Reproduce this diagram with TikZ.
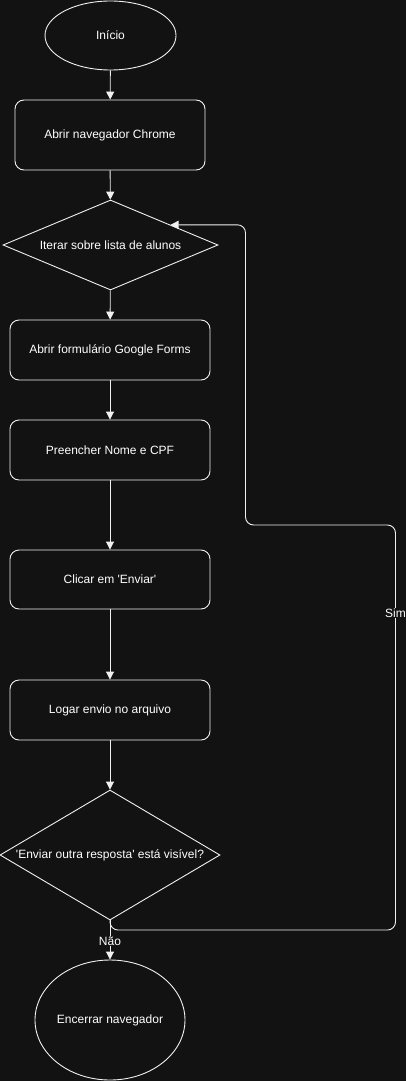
\documentclass[tikz,border=0pt]{standalone}
\usepackage{fontspec}
\setmainfont{Liberation Sans}
\usetikzlibrary{shapes.geometric,arrows.meta,calc}
\definecolor{bg}{HTML}{121212}
\definecolor{fg}{HTML}{F0F0F0}
\begin{document}
\begin{tikzpicture}[x=1pt,y=-1pt,
  every node/.style={text=white,font=\fontsize{12}{14}\selectfont,inner sep=0pt},
  term/.style={ellipse,draw=fg,line width=0.9pt},
  proc/.style={rectangle,rounded corners=9pt,draw=fg,line width=0.9pt,minimum width=200pt,minimum height=60pt},
  cond/.style={diamond,draw=fg,line width=0.9pt},
  arr/.style={draw=fg,line width=0.9pt,-{Triangle[length=8pt,width=8pt]}},
  lbl/.style={fill=bg,inner sep=1pt}]
\fill[bg] (0,0) rectangle (406,1081);
\useasboundingbox (0,0) rectangle (406,1081);
\node[term, minimum width=131pt, minimum height=69pt] (inicio) at (110.5,35.5){Início};
\node[proc, minimum width=190pt, minimum height=70pt] (chrome) at (110,135){Abrir navegador Chrome};
\node[cond, aspect=2.39, minimum width=215pt, minimum height=90pt] (iterar) at (110.5,245){Iterar sobre lista de alunos};
\node[proc] (form) at (110,350){Abrir formulário Google Forms};
\node[proc] (preencher) at (110,450){Preencher Nome e CPF};
\node[proc, minimum height=59pt] (clicar) at (110,579.5){Clicar em \textquotesingle Enviar\textquotesingle};
\node[proc] (logar) at (110,710){Logar envio no arquivo};
\node[cond, aspect=1.69, minimum width=220pt, minimum height=130pt] (visivel) at (110,855){\textquotesingle Enviar outra resposta\textquotesingle{} está visível?};
\node[term, minimum width=150pt, minimum height=120pt] (encerrar) at (110,1020){Encerrar navegador};
\foreach \from/\to in
{inicio/chrome,chrome/iterar,iterar/form,form/preencher,preencher/clicar,clicar/logar,logar/visivel,visivel/encerrar}
\draw[arr] (\from) -- (\to);
\coordinate (volta) at ($(iterar.north)!0.556!(iterar.east)$);
\draw[arr, rounded corners=8pt] (visivel.south) |- (395.5,930) |- (245.5,525) |- (volta);
\node[lbl] (nao) at (110,941){Não};
\node[lbl] (sim) at (395.5,613){Sim};
\end{tikzpicture}
\end{document}
